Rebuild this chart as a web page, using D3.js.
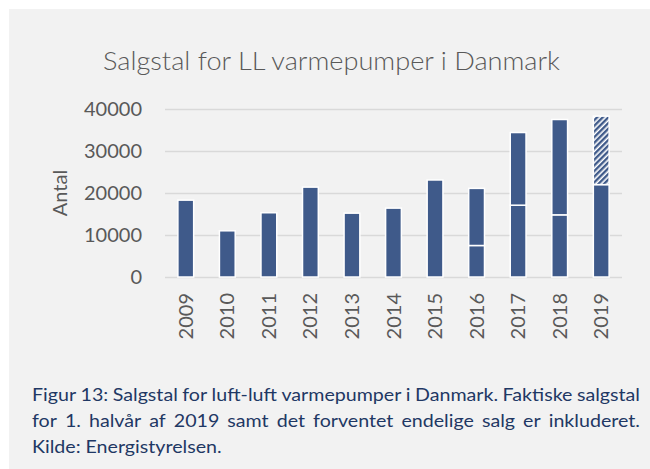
<!DOCTYPE html>
<html>
<head>
    <meta charset="utf-8" />
    <title>Salgstal for LL varmepumper i Danmark</title>
    <style>
        body { margin: 0; background: #fff; }
        .grid line { stroke: #d9d9d9; stroke-width: 1.5px; }
        .grid path { display: none; }
        .axis text { font-family: Lato, sans-serif; font-size: 20px; fill: #595959; }
    </style>
    <script src="https://cdn.jsdelivr.net/npm/d3@7"></script>
</head>
<body>
    <script>
        // data
        const years = ['2009', '2010', '2011', '2012', '2013', '2014', '2015', '2016', '2017', '2018', '2019'];
        const base = [18300, 11000, 15300, 21400, 15200, 16400, 23100, 7500, 17100, 14800, 22000];
        const upper = [0, 0, 0, 0, 0, 0, 0, 13600, 17300, 22700, 0];
        const forecast = [0, 0, 0, 0, 0, 0, 0, 0, 0, 0, 16300];
        const yTicks = [0, 10000, 20000, 30000, 40000];
        const captionLines = [
            'Figur 13: Salgstal for luft-luft varmepumper i Danmark. Faktiske salgstal',
            'for 1. halvår af 2019 samt det forventet endelige salg er inkluderet.',
            'Kilde: Energistyrelsen.'
        ];

        const W = 650, H = 469;
        const pLeft = 165, pRight = 622, pTop = 109, pBottom = 277;
        const barColor = '#3f5a8a';

        const svg = d3.select('body').append('svg')
            .attr('width', W)
            .attr('height', H);

        // hatch for the expected rest of 2019
        const pat = svg.append('defs').append('pattern')
            .attr('id', 'hatch')
            .attr('patternUnits', 'userSpaceOnUse')
            .attr('width', 4).attr('height', 4)
            .attr('patternTransform', 'rotate(45)');
        pat.append('rect').attr('width', 4).attr('height', 4).attr('fill', '#fff');
        pat.append('rect').attr('width', 2.4).attr('height', 4).attr('fill', barColor);

        svg.append('rect')
            .attr('x', 9).attr('y', 9)
            .attr('width', W - 9).attr('height', H - 9)
            .attr('fill', '#f2f2f2');

        const x = d3.scaleBand().domain(years).range([pLeft, pRight]).paddingInner(0.62).paddingOuter(0.31);
        const y = d3.scaleLinear().domain([0, 40000]).range([pBottom, pTop]);

        // title
        svg.append('text')
            .attr('x', 103).attr('y', 70)
            .attr('textLength', 457)
            .attr('lengthAdjust', 'spacingAndGlyphs')
            .style('font-family', 'Lato, sans-serif')
            .style('font-size', '25px')
            .style('font-weight', 300)
            .style('fill', '#595959')
            .text('Salgstal for LL varmepumper i Danmark');

        // gridlines + y labels
        svg.append('g')
            .attr('class', 'grid axis')
            .attr('transform', 'translate(' + pLeft + ',0)')
            .call(d3.axisLeft(y).tickValues(yTicks).tickSize(-(pRight - pLeft)).tickPadding(23).tickFormat(d3.format('d')));

        // y label
        svg.append('text')
            .attr('transform', 'translate(67,' + ((pTop + pBottom) / 2) + ') rotate(-90)')
            .attr('text-anchor', 'middle')
            .style('font-family', 'Lato, sans-serif')
            .style('font-size', '20px')
            .style('fill', '#595959')
            .text('Antal');

        // stacked bars
        const rows = years.map((yr, i) => ({ year: yr, base: base[i], upper: upper[i], forecast: forecast[i] }));
        const stack = d3.stack().keys(['base', 'upper', 'forecast'])(rows);

        svg.selectAll('.layer')
            .data(stack)
            .enter().append('g')
                .attr('class', 'layer')
                .attr('fill', d => d.key === 'forecast' ? 'url(#hatch)' : barColor)
            .selectAll('rect')
            .data(d => d.filter(s => s[1] > s[0]))
            .enter().append('rect')
                .attr('x', d => x(d.data.year))
                .attr('y', d => y(d[1]))
                .attr('width', x.bandwidth())
                .attr('height', d => y(d[0]) - y(d[1]))
                .attr('stroke', '#fff')
                .attr('stroke-width', 1.5);

        // x labels
        const xa = svg.append('g')
            .attr('class', 'axis')
            .attr('transform', 'translate(0,' + pBottom + ')')
            .call(d3.axisBottom(x).tickSize(0).tickPadding(0));
        xa.select('.domain').remove();
        xa.selectAll('text')
            .attr('transform', 'rotate(-90)')
            .attr('x', -16)
            .attr('y', 0)
            .attr('dy', '0.35em')
            .style('text-anchor', 'end');

        // caption, justified word by word (Calibri-ish look: Lato stretched a little)
        const capLeft = 32, capRight = 640;
        const cap = svg.append('g')
            .style('font-family', 'Lato, sans-serif')
            .style('font-size', '17px')
            .style('fill', '#1f3864');
        // measure the last line to get the horizontal stretch
        const probe = cap.append('text').text(captionLines[2]);
        const sx = 190 / probe.node().getComputedTextLength();
        probe.remove();
        cap.attr('transform', 'translate(' + capLeft + ',0) scale(' + sx + ',1)');
        const span = (capRight - capLeft) / sx;
        captionLines.forEach((line, li) => {
            const words = line.split(' ');
            const yy = 401 + li * 26;
            const nodes = words.map(w => cap.append('text').attr('y', yy).text(w));
            const widths = nodes.map(n => n.node().getComputedTextLength());
            const total = d3.sum(widths);
            const last = li === captionLines.length - 1;
            const gap = last ? 4.2 : (span - total) / (words.length - 1);
            let cx = 0;
            nodes.forEach((n, k) => {
                n.attr('x', cx);
                cx += widths[k] + gap;
            });
        });
    </script>
</body>
</html>
